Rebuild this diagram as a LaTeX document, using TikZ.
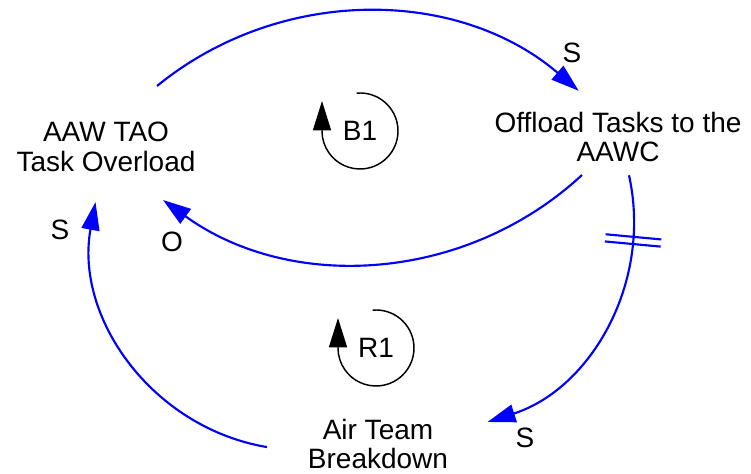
\documentclass[tikz,border=0pt]{standalone}
\usepackage{fontspec}
\setmainfont{Liberation Sans}
\usetikzlibrary{arrows.meta,decorations.markings}

\begin{document}
\begin{tikzpicture}[x=0.75pt, y=0.75pt,
  every node/.style={font=\fontsize{21}{22}\selectfont, align=center},
  link/.style={color=blue, line width=1.6pt, -{Triangle[length=21pt,width=13.5pt]}},
  loopsym/.style={line width=1.1pt, -{Triangle[length=22pt,width=13.5pt]}}]
  \useasboundingbox (0,0) rectangle (751,474);
  \node (0) at (106,327) {AAW TAO\\Task Overload};
  \node (1) at (618,337) {Offload Tasks to the\\AAWC};
  \node (2) at (378,30) {Air Team\\Breakdown};
  \node (3) at (360,343) {B1};
  \node (4) at (376,126) {R1};
  \draw[link] ([shift={(51,61)}]0.center) .. controls +(39.2:159) and +(139.5:159) .. ([shift={(-39.3,46.2)}]1.center);
  \draw[link] ([shift={(-36,-38)}]1.center) .. controls +(222.8:158) and +(-35.9:158) .. ([shift={(57,-53)}]0.center);
  \draw[link, postaction={decorate, decoration={markings, mark=at position 0.21 with {\draw[-] (-2.7pt,-21pt) -- (-2.7pt,21pt) (2.7pt,-21pt) -- (2.7pt,21pt);}}}] ([shift={(11,-38.3)}]1.center) .. controls +(-77.5:109) and +(17.8:109) .. ([shift={(109.5,22)}]2.center);
  \draw[link] ([shift={(-111,-3.1)}]2.center) .. controls +(170.4:117) and +(-100.4:117) .. ([shift={(-10.5,-55.1)}]0.center);
  \draw[loopsym] ([shift={(95:38)}]3.center) arc[start angle=95, end angle=-180, radius=38] -- ++(0,30);
  \draw[loopsym] ([shift={(95:38)}]4.center) arc[start angle=95, end angle=-180, radius=38] -- ++(0,30);
  \node (5) at (572,421) {S};
  \node (6) at (172,232) {O};
  \node (7) at (525,36) {S};
  \node (8) at (60,244) {S};
\end{tikzpicture}
\end{document}
